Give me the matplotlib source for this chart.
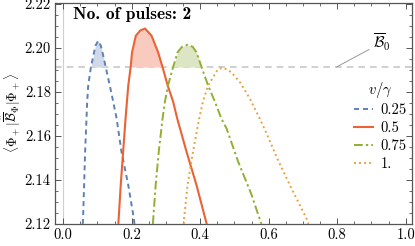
import matplotlib
matplotlib.use("Agg")
import matplotlib.pyplot as plt
import numpy as np
from matplotlib.ticker import MultipleLocator

plt.rcParams['font.family'] = 'serif'
plt.rcParams['font.serif'] = ['cmr10']
plt.rcParams['mathtext.fontset'] = 'cm'
plt.rcParams['axes.formatter.use_mathtext'] = True

# Data
B0 = 2.1914

x_025 = [0.057, 0.058, 0.061, 0.064, 0.068, 0.070, 0.073, 0.081, 0.088, 0.094, 0.102,
         0.110, 0.117, 0.124, 0.136, 0.146, 0.156, 0.170, 0.190, 0.206, 0.208]
y_025 = [2.1200, 2.1227, 2.1376, 2.1530, 2.1679, 2.1756, 2.1830, 2.1914, 2.1965, 2.2010, 2.2033,
         2.2010, 2.1965, 2.1914, 2.1830, 2.1756, 2.1679, 2.1530, 2.1376, 2.1227, 2.1200]

x_05 = [0.161, 0.168, 0.175, 0.182, 0.190, 0.197, 0.201, 0.212, 0.225, 0.239,
        0.258, 0.277, 0.290, 0.305, 0.321, 0.333, 0.360, 0.389, 0.419]
y_05 = [2.1200, 2.1378, 2.1529, 2.1679, 2.1830, 2.1914, 2.1981, 2.2056, 2.2080, 2.2089,
        2.2056, 2.1981, 2.1914, 2.1830, 2.1756, 2.1679, 2.1529, 2.1378, 2.1200]

x_075 = [0.262, 0.263, 0.270, 0.279, 0.290, 0.297, 0.306, 0.321, 0.334, 0.347, 0.363,
         0.378, 0.389, 0.404, 0.423, 0.443, 0.462, 0.477, 0.511, 0.550, 0.576, 0.579]
y_075 = [2.1200, 2.1227, 2.1377, 2.1529, 2.1679, 2.1756, 2.1830, 2.1914, 2.1981, 2.2006, 2.2015,
         2.2006, 2.1981, 2.1914, 2.1830, 2.1756, 2.1679, 2.1634, 2.1483, 2.1333, 2.1212, 2.1200]

x_1 = [0.352, 0.353, 0.363, 0.379, 0.397, 0.408, 0.423, 0.438, 0.450, 0.462,
       0.475, 0.491, 0.516, 0.545, 0.574, 0.596, 0.627, 0.666, 0.710, 0.716]
y_1 = [2.1200, 2.1227, 2.1376, 2.1529, 2.1679, 2.1756, 2.1830, 2.1868, 2.1900, 2.1910,
       2.1905, 2.1890, 2.1845, 2.1770, 2.1679, 2.1604, 2.1491, 2.1363, 2.1227, 2.1200]

labels = ['0.25', '0.5', '0.75', '1.']
colors = ['#5E81B5', '#EB6235', '#8FB032', '#E8A33D']
fills = ['#CFD9EA', '#F9CBBE', '#DDE6C4', '#F8E4C4']
styles = [(0, (2.6, 2.0)), '-', (0, (4.5, 1.6, 1.2, 1.6)), (0, (1.0, 1.6))]

fig = plt.figure(figsize=(4.15, 2.46), dpi=100)
ax = fig.add_axes([0.1325, 0.0894, 0.8595, 0.8984])

ax.axvline(0, color='#d0d0d0', lw=0.8, zorder=0)
ax.axhline(B0, color='#c8c8c8', lw=1.2, ls=(0, (4, 3)), zorder=1)

series = [(x_025, y_025), (x_05, y_05), (x_075, y_075), (x_1, y_1)]
for (xs, ys), lab, c, fc, st in zip(series, labels, colors, fills, styles):
    xs = np.array(xs); ys = np.array(ys)
    ax.fill_between(xs, ys, B0, where=ys >= B0, interpolate=True, color=fc, lw=0, zorder=2)
    ax.plot(xs, ys, color=c, lw=1.5 if st == '-' else 1.4, ls=st, label=lab, zorder=3,
            dash_capstyle='butt')

ax.set_xlim(-0.024, 1.0175)
ax.set_ylim(2.12, 2.2205)

ax.xaxis.set_major_locator(MultipleLocator(0.2))
ax.xaxis.set_minor_locator(MultipleLocator(0.05))
ax.yaxis.set_major_locator(MultipleLocator(0.02))
ax.yaxis.set_minor_locator(MultipleLocator(0.005))
ax.xaxis.set_major_formatter(matplotlib.ticker.FormatStrFormatter('%.1f'))
ax.yaxis.set_major_formatter(matplotlib.ticker.FormatStrFormatter('%.2f'))
ax.tick_params(which='both', direction='in', top=True, right=True, color='#555555')
ax.tick_params(which='major', length=4, width=0.7, labelsize=10.5, pad=3)
ax.tick_params(which='minor', length=2.2, width=0.6)
for s in ax.spines.values():
    s.set_color('#555555')
    s.set_linewidth(0.9)

ax.set_ylabel(r'$\langle\Phi_+|\hat{\overline{\mathcal{B}}}_\Phi|\Phi_+\rangle$', fontsize=9.5, labelpad=1)

ax.text(0.03, 2.2152, 'No. of pulses: 2', fontfamily='cmb10', fontsize=12.5, va='center', ha='left')

ax.annotate(r'$\overline{\mathcal{B}}_0$', xy=(0.798, B0), xytext=(0.905, 2.2025),
            fontsize=11, va='center', ha='left',
            arrowprops=dict(arrowstyle='-', color='#999999', lw=0.7, shrinkA=1, shrinkB=0))

leg = ax.legend(loc='upper left', bbox_to_anchor=(0.81, 0.70), frameon=False,
                title=r'$v/\gamma$', fontsize=10.5, title_fontsize=10.5,
                handlelength=1.3, handletextpad=0.5, labelspacing=0.28, borderpad=0.2)
leg._legend_box.align = 'center'

fig.savefig('out.png', dpi=100)
